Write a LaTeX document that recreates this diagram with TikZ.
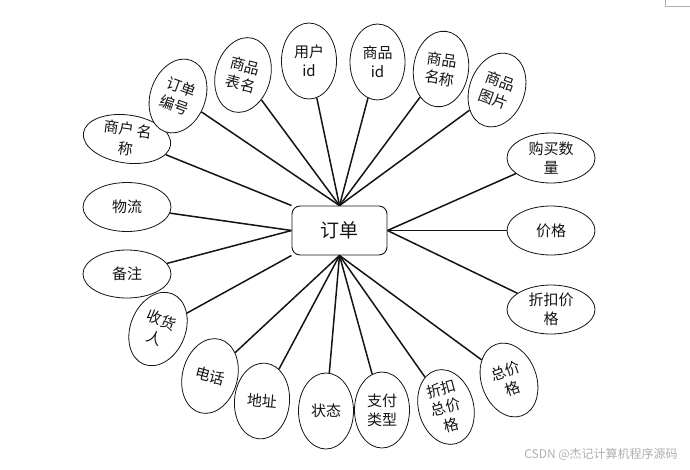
\documentclass[tikz,border=0pt]{standalone}
\usepackage{fontspec}
\setmainfont{Noto Sans CJK SC}
\usepackage{xcolor}
\definecolor{erInk}{RGB}{20, 20, 20}
\definecolor{erMark}{RGB}{175, 175, 175}
\usepackage{tikz}
\usetikzlibrary{
    shapes.geometric,
    arrows.meta,
    positioning
}

\begin{document}
\begin{tikzpicture}[
    x=1pt, y=-1pt,
    attrFlat/.style={
        ellipse, draw=erInk, line width=0.8pt,
        fill=white, text=erInk,
        font=\fontsize{15}{19}\selectfont, align=center,
        inner sep=0pt, minimum width=88pt, minimum height=49pt
    },
    attrTall/.style={
        ellipse, draw=erInk, line width=0.8pt,
        fill=white, text=erInk,
        font=\fontsize{15}{19}\selectfont, align=center,
        inner sep=0pt, minimum width=55pt, minimum height=76pt
    },
    entityBox/.style={
        rectangle, rounded corners=8pt,
        draw=erInk, line width=0.9pt,
        fill=white, text=erInk,
        font=\fontsize{19}{23}\selectfont,
        minimum width=95pt, minimum height=49pt
    },
    relLine/.style={
        line width=1.5pt, draw=erInk
    },
    markText/.style={
        font=\fontsize{12}{14}\selectfont, text=erMark, inner sep=0pt
    }
]

    \useasboundingbox (0,0) rectangle (690,469);

    % Entity
    \node[entityBox] (ord) at (339.5, 230.5) {订单};

    % Upper Attributes
    \node[attrFlat, minimum height=48pt, rotate=-8] (a_1) at (127, 139) {商户 名\\称};
    \node[attrTall, rotate=-20] (a_2) at (178, 96) {订单\\编号};
    \node[attrTall, rotate=-15] (a_3) at (243, 75) {商品\\表名};
    \node[attrTall] (a_4) at (309, 61) {用户\\id};
    \node[attrTall] (a_5) at (377.5, 62) {商品\\id};
    \node[attrTall, rotate=-8] (a_6) at (441, 69) {商品\\名称};
    \node[attrTall, rotate=-20] (a_7) at (497, 90) {商品\\图片};

    % Side Attributes
    \node[attrFlat, minimum height=50pt] (a_8) at (551, 158) {购买数\\量};
    \node[attrFlat] (a_9) at (551, 230.5) {价格};
    \node[attrFlat] (a_10) at (551, 309.5) {折扣价\\格};
    \node[attrFlat] (a_11) at (127, 207) {物流};
    \node[attrFlat, minimum height=48pt] (a_12) at (127, 274) {备注};

    % Lower Attributes
    \node[attrTall, rotate=-22] (a_13) at (158, 329) {收货\\人};
    \node[attrTall, rotate=-15] (a_14) at (210, 376) {电话};
    \node[attrTall, rotate=-5] (a_15) at (262, 401) {地址};
    \node[attrTall] (a_16) at (326, 411) {状态};
    \node[attrTall] (a_17) at (382, 410) {支付\\类型};
    \node[attrTall, rotate=15] (a_18) at (446, 407) {折扣\\总价\\格};
    \node[attrTall, rotate=20] (a_19) at (509, 380) {总价\\格};

    % Connectors
    \draw[relLine] (a_1) -- (ord.north west);
    \foreach \i in {2,...,7} {
        \draw[relLine] (a_\i) -- (ord.north);
    }
    \foreach \i in {8,9,10} {
        \draw[relLine] (a_\i) -- (ord.east);
    }
    \foreach \i in {11,12} {
        \draw[relLine] (a_\i) -- (ord.west);
    }
    \draw[relLine] (a_13) -- (ord.south west);
    \foreach \i in {14,...,19} {
        \draw[relLine] (a_\i) -- (ord.south);
    }

    % Page Mark and Watermark
    \draw[erMark, line width=0.8pt] (665,0) -- (665,6) -- (690,6);
    \node[markText] (wm) at (601, 454) {CSDN @杰记计算机程序源码};

\end{tikzpicture}
\end{document}
